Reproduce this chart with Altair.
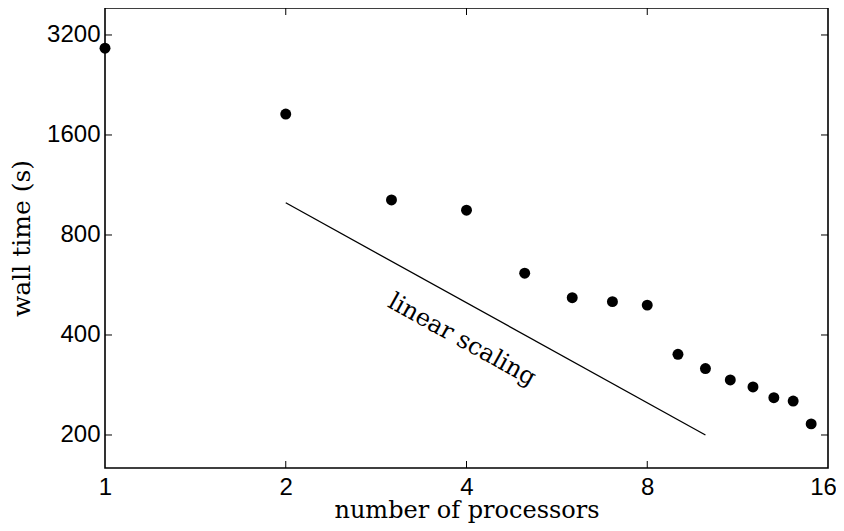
import altair as alt
import pandas as pd

# data
procs = [1, 2, 3, 4, 5, 6, 7, 8, 9, 10, 11, 12, 13, 14, 15]
wall_time = [2920, 1850, 1020, 950, 614, 518, 504, 492, 350, 317, 293, 279, 259, 253, 216]

line_x = [2, 10]
line_y = [1000, 200]

label_text = ["linear scaling"]
label_x = [3.93]
label_y = [386]

x_ticks = [1, 2, 4, 8, 16]
y_ticks = [200, 400, 800, 1600, 3200]
x_inner_ticks = [2, 4, 8]

W, H = 723, 460
xdom = [1, 16]
ydom = [159.1, 3858]

pts = pd.DataFrame({"p": procs, "t": wall_time})
ln = pd.DataFrame({"p": line_x, "t": line_y})
lab = pd.DataFrame({"p": label_x, "t": label_y, "s": label_text})
xt = pd.DataFrame({"p": x_inner_ticks})
yt = pd.DataFrame({"t": y_ticks})

xscale = alt.Scale(type="log", domain=xdom, nice=False)
yscale = alt.Scale(type="log", domain=ydom, nice=False)

serif = "DejaVu Serif"

xaxis = alt.Axis(values=x_ticks, title="number of processors", grid=False, ticks=False,
                 domain=False, labelFont="Liberation Sans", labelFontSize=24,
                 labelColor="black", labelPadding=7, labelFlush=False, labelOverlap=False,
                 labelOffset=alt.expr("datum.value == 16 ? -5 : 0"),
                 titleFont=serif, titleFontSize=24, titleFontWeight="normal",
                 titleColor="black", titleBaseline="alphabetic", titleY=49, format="d")
yaxis = alt.Axis(values=y_ticks, title="wall time (s)", grid=False, ticks=False,
                 domain=False, labelFont="Liberation Sans", labelFontSize=24,
                 labelColor="black", labelPadding=5, labelFlush=False, labelOverlap=False,
                 titleFont=serif, titleFontSize=25, titleFontWeight="normal",
                 titleColor="black", titlePadding=12, format="d")

X = alt.X("p:Q", scale=xscale, axis=xaxis)
Y = alt.Y("t:Q", scale=yscale, axis=yaxis)

points = alt.Chart(pts).mark_circle(size=120, color="black", opacity=1).encode(x=X, y=Y)

line = alt.Chart(ln).mark_line(color="black", strokeWidth=1.3).encode(x=X, y=Y)

text = alt.Chart(lab).mark_text(font=serif, fontSize=24, angle=29,
                                align="center", baseline="middle", color="black").encode(
    x=X, y=Y, text="s:N")

tick_len = 7
xt_bottom = alt.Chart(xt).mark_rule(color="black", strokeWidth=1).encode(
    x=X, y=alt.value(H), y2=alt.value(H - tick_len))
xt_top = alt.Chart(xt).mark_rule(color="black", strokeWidth=1).encode(
    x=X, y=alt.value(0), y2=alt.value(tick_len))
yt_left = alt.Chart(yt).mark_rule(color="black", strokeWidth=1).encode(
    y=Y, x=alt.value(0), x2=alt.value(tick_len))
yt_right = alt.Chart(yt).mark_rule(color="black", strokeWidth=1).encode(
    y=Y, x=alt.value(W), x2=alt.value(W - tick_len))

chart = alt.layer(points, line, text, xt_bottom, xt_top, yt_left, yt_right).properties(
    width=W, height=H,
    autosize=alt.AutoSizeParams(type="none"),
    padding={"left": 97, "top": 0, "right": 8, "bottom": 55},
    background="white",
).configure_view(stroke="black", strokeWidth=1.6)

chart.save("out.html", embed_options={"renderer": "svg", "actions": False})
